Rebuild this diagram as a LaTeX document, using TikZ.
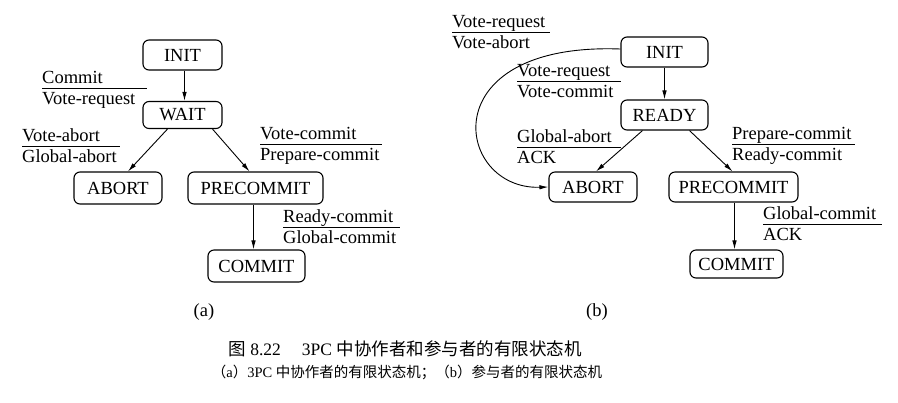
\documentclass[tikz,border=0pt]{standalone}
\usepackage{fontspec}
\setmainfont{Liberation Serif}
\newfontfamily\cjk{Noto Sans CJK SC}
\usetikzlibrary{arrows.meta}
\tikzset{
 state/.style={draw, rounded corners=6bp, line width=1.1bp, minimum height=30bp, inner sep=0pt, font=\fontsize{18.5bp}{20bp}\selectfont},
 edge/.style={line width=0.9bp, -{Latex[length=9bp,width=4.5bp]}},
 lbl/.style={inner sep=0pt, font=\fontsize{18.5bp}{20bp}\selectfont},
 rulel/.style={line width=0.8bp}
}
\newcommand\trlabel[6]{%
 \coordinate (#1-l) at (#2,#4);
 \coordinate (#1-r) at (#3,#4);
 \draw[rulel] (#1-l) -- (#1-r);
 \node[lbl, anchor=base west] (#1-t) at ([yshift=5bp]#1-l) {#5};
 \node[lbl, anchor=base west] (#1-b) at ([yshift=-16bp]#1-l) {#6};
}
\begin{document}
\begin{tikzpicture}[x=1bp,y=-1bp]
\useasboundingbox[fill=white] (0,0) rectangle (898,402);
% ---------- (a) coordinator ----------
\node[state, minimum width=79bp] (initA) at (182.5,55) {INIT};
\node[state, minimum width=79bp, minimum height=27bp] (waitA) at (182.5,115) {WAIT};
\node[state, minimum width=88bp, minimum height=32bp] (abortA) at (118,188) {ABORT};
\node[state, minimum width=135bp, minimum height=32bp] (precA) at (255.5,188) {PRECOMMIT};
\node[state, minimum width=97bp, minimum height=32bp] (commitA) at (256.5,266) {COMMIT};
\draw[edge] ([xshift=2bp]initA.south) -- ([xshift=2bp]waitA.north);
\draw[edge] ([xshift=-15bp]waitA.south) -- ([xshift=10bp]abortA.north);
\draw[edge] ([xshift=30bp]waitA.south) -- ([xshift=-6bp]precA.north);
\draw[edge] ([xshift=-2bp]precA.south) -- ([xshift=-2bp]precA.south |- commitA.north);
\trlabel{la1}{42}{147}{88}{Commit}{Vote-request}
\trlabel{la2}{22}{120}{146}{Vote-abort}{Global-abort}
\trlabel{la3}{260}{382}{144}{Vote-commit}{Prepare-commit}
\trlabel{la4}{283}{400}{227}{Ready-commit}{Global-commit}
\node[lbl] (capa) at (204,312) {(a)};
% ---------- (b) participant ----------
\node[state, minimum width=87bp] (initB) at (664.5,52) {INIT};
\node[state, minimum width=87bp] (readyB) at (664.5,115) {READY};
\node[state, minimum width=88bp] (abortB) at (593,187) {ABORT};
\node[state, minimum width=129bp] (precB) at (733.5,187) {PRECOMMIT};
\node[state, minimum width=93bp, minimum height=28bp] (commitB) at (736.5,264) {COMMIT};
\draw[edge] (initB.south) -- (readyB.north);
\draw[edge] ([xshift=-22bp]readyB.south) -- ([xshift=3bp]abortB.north);
\draw[edge] ([xshift=25bp]readyB.south) -- ([xshift=-1bp]precB.north);
\draw[edge] ([xshift=1bp]precB.south) -- ([xshift=1bp]precB.south |- commitB.north);
\draw[edge] ([yshift=3bp]initB.west) .. controls (430,42) and (455,190) .. (abortB.west);
\trlabel{lb1}{452}{550}{32}{Vote-request}{Vote-abort}
\trlabel{lb2}{517}{621}{81}{Vote-request}{Vote-commit}
\trlabel{lb3}{517}{621}{147}{Global-abort}{ACK}
\trlabel{lb4}{732}{855}{144}{Prepare-commit}{Ready-commit}
\trlabel{lb5}{763}{882}{224}{Global-commit}{ACK}
\node[lbl] (capb) at (597,312) {(b)};
% ---------- caption ----------
\node[inner sep=0pt, font=\fontsize{17.5bp}{19bp}\selectfont] (cap1) at (405,349)
 {{\cjk 图} 8.22\hspace{1.2em}3PC {\cjk 中协作者和参与者的有限状态机}};
\node[inner sep=0pt, font=\fontsize{14.5bp}{16bp}\selectfont] (cap2) at (407,372)
 {{\cjk （}a{\cjk ）}3PC {\cjk 中协作者的有限状态机；（}b{\cjk ）参与者的有限状态机}};
\end{tikzpicture}
\end{document}
